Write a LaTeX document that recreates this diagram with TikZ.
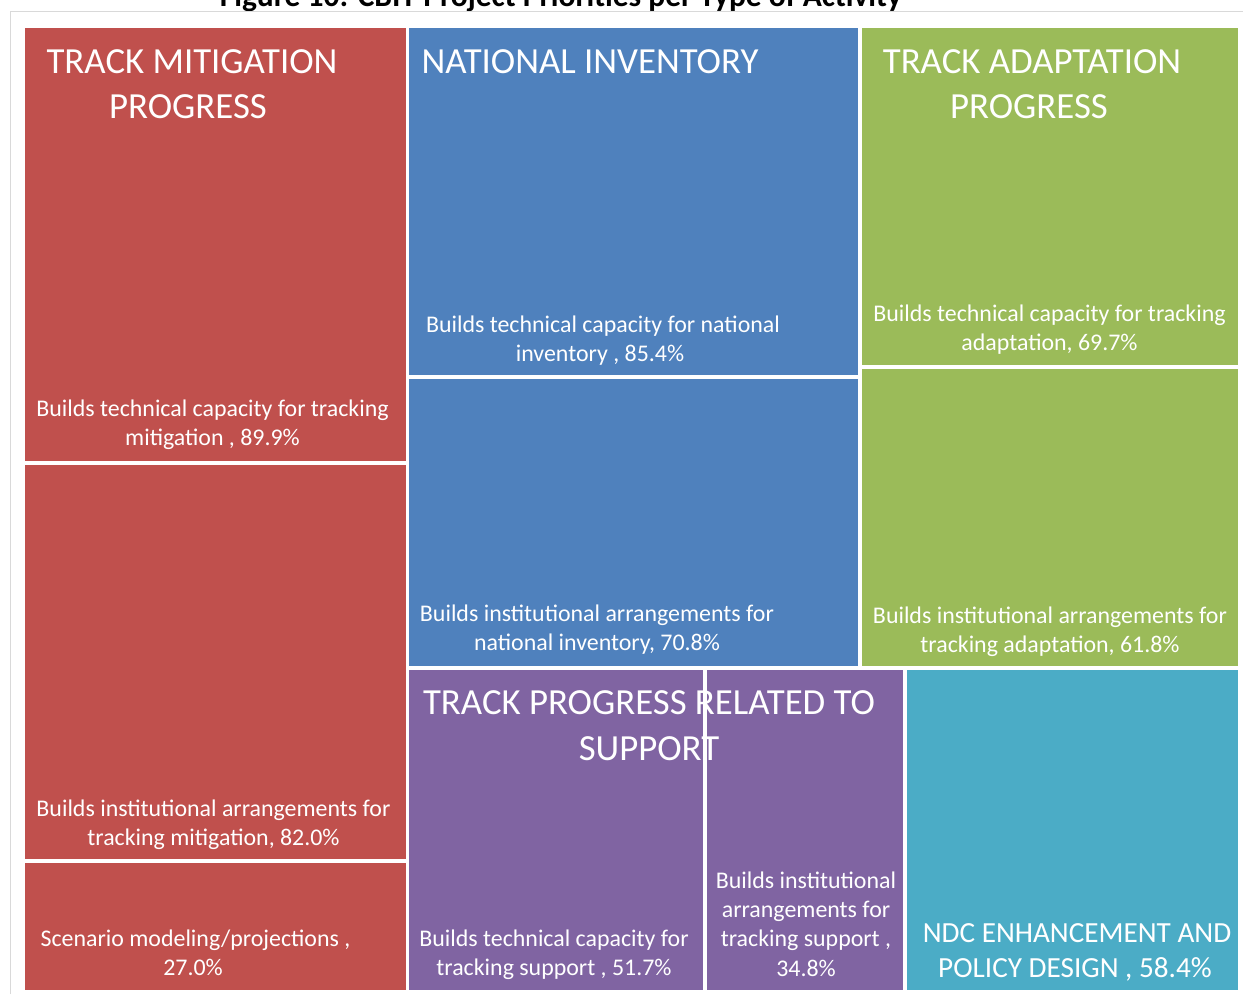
\documentclass[tikz,border=0pt]{standalone}
\usepackage{fontspec}
\setmainfont{Carlito}
\definecolor{cred}{HTML}{C0504D}
\definecolor{cblue}{HTML}{4F81BD}
\definecolor{cgreen}{HTML}{9BBB59}
\definecolor{cpurple}{HTML}{8064A2}
\definecolor{cteal}{HTML}{4BACC6}
\definecolor{cframe}{HTML}{D9D9D9}
\begin{document}
\begin{tikzpicture}[x=1pt,y=-1pt,
  hdr/.style={text=white,inner sep=0pt,anchor=base,font=\fontsize{36.8}{46}\selectfont},
  ndc/.style={text=white,inner sep=0pt,anchor=base,font=\fontsize{29.2}{35}\selectfont},
  lbl/.style={text=white,inner sep=0pt,anchor=base,font=\fontsize{23.9}{29.5}\selectfont},
  ttl/.style={text=black,inner sep=0pt,anchor=base,font=\bfseries\fontsize{31.5}{36}\selectfont}]
\useasboundingbox (0,0) rectangle (1243,994);
\clip (0,0) rectangle (1243,994);
% title (cut off at top, as in the reference)
\node[ttl] (title) at (561,6) {Figure 10: CBIT Project Priorities per Type of Activity};
% frame
\draw[cframe,line width=1pt] (10,994) -- (10,11.5) -- (1243,11.5);
% tiles
\fill[cred] (25,28) rectangle (405.5,461);
\fill[cred] (25,465) rectangle (405.5,858.5);
\fill[cred] (25,862.5) rectangle (405.5,989.5);
\fill[cblue] (409,28) rectangle (858,375);
\fill[cblue] (409,379) rectangle (858,666);
\fill[cgreen] (862,28) rectangle (1238,364.5);
\fill[cgreen] (862,368.5) rectangle (1238,665.5);
\fill[cpurple] (409,669.5) rectangle (703,989.5);
\fill[cpurple] (707,669.5) rectangle (903,989.5);
\fill[cteal] (907,669.5) rectangle (1238,989.5);
% headers
\node[hdr] (h1a) at (192,73) {TRACK MITIGATION};
\node[hdr] (h1b) at (188,118.5) {PROGRESS};
\node[hdr] (h2) at (590,73) {NATIONAL INVENTORY};
\node[hdr] (h3a) at (1032,73) {TRACK ADAPTATION};
\node[hdr] (h3b) at (1029,118.5) {PROGRESS};
\node[hdr] (h4a) at (649,714.5) {TRACK PROGRESS RELATED TO};
\node[hdr] (h4b) at (649,760) {SUPPORT};
\node[ndc] (h5a) at (1077,942) {NDC ENHANCEMENT AND};
\node[ndc] (h5b) at (1075,977) {POLICY DESIGN , 58.4\%};
% labels
\node[lbl] (r1a) at (212.5,416.7) {Builds technical capacity for tracking};
\node[lbl] (r1b) at (212.5,445.7) {mitigation , 89.9\%};
\node[lbl] (r2a) at (213.5,816) {Builds institutional arrangements for};
\node[lbl] (r2b) at (213.5,845) {tracking mitigation, 82.0\%};
\node[lbl] (r3a) at (195.5,946) {Scenario modeling/projections ,};
\node[lbl] (r3b) at (193,975) {27.0\%};
\node[lbl] (b1a) at (603,332) {Builds technical capacity for national};
\node[lbl] (b1b) at (600,361) {inventory , 85.4\%};
\node[lbl] (b2a) at (597,621.5) {Builds institutional arrangements for};
\node[lbl] (b2b) at (597,650.7) {national inventory, 70.8\%};
\node[lbl] (g1a) at (1049.5,321) {Builds technical capacity for tracking};
\node[lbl] (g1b) at (1049.5,350) {adaptation, 69.7\%};
\node[lbl] (g2a) at (1050,623) {Builds institutional arrangements for};
\node[lbl] (g2b) at (1050,652) {tracking adaptation, 61.8\%};
\node[lbl] (p1a) at (554,946) {Builds technical capacity for};
\node[lbl] (p1b) at (554,975) {tracking support , 51.7\%};
\node[lbl] (p2a) at (806,888.5) {Builds institutional};
\node[lbl] (p2b) at (806,917.5) {arrangements for};
\node[lbl] (p2c) at (806,946.5) {tracking support ,};
\node[lbl] (p2d) at (806,976) {34.8\%};
\end{tikzpicture}
\end{document}
